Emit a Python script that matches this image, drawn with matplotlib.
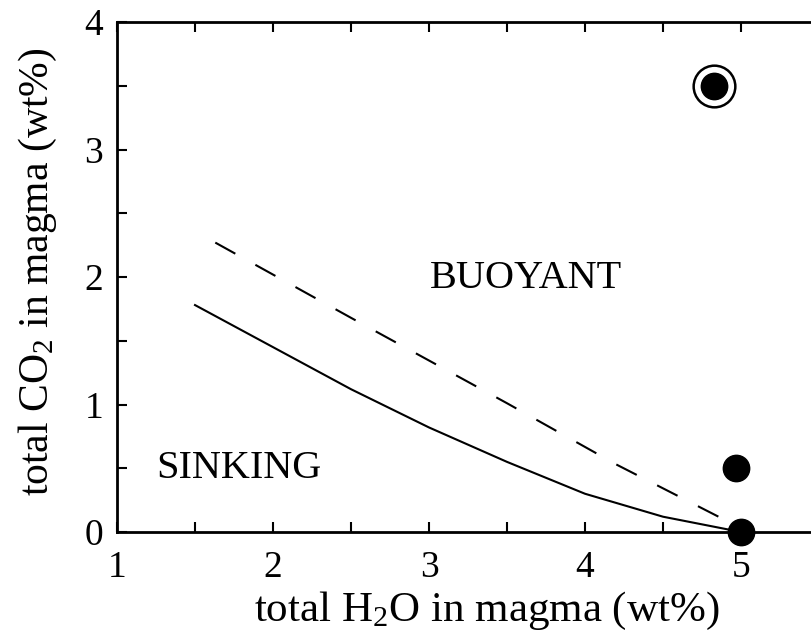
import numpy as np
import matplotlib.pyplot as plt

plt.rcParams['font.family'] = ['Liberation Serif', 'DejaVu Serif']
plt.rcParams['mathtext.fontset'] = 'custom'
plt.rcParams['mathtext.rm'] = 'Liberation Serif'
plt.rcParams['mathtext.it'] = 'Liberation Serif:italic'

# boundary curves (total H2O vs total CO2, wt%)
solid_h2o = [1.5, 2.0, 2.5, 3.0, 3.5, 4.0, 4.5, 5.0]
solid_co2 = [1.78, 1.45, 1.12, 0.82, 0.55, 0.30, 0.12, 0.0]
dashed_h2o = [1.63, 2.5, 3.5, 4.2, 5.0]
dashed_co2 = [2.27, 1.68, 1.01, 0.53, 0.03]

# samples
pts_h2o = [4.83, 4.97, 5.0]
pts_co2 = [3.5, 0.5, 0.0]
ringed_h2o = [4.83]
ringed_co2 = [3.5]

xticks = np.arange(1, 6.01, 0.5)
xlabels = [str(int(v)) if v == int(v) and v <= 5 else '' for v in xticks]
yticks = np.arange(0, 4.01, 0.5)
ylabels = [str(int(v)) if v == int(v) else '' for v in yticks]

fig = plt.figure(figsize=(8.12, 6.44), dpi=100)
ax = fig.add_axes([0.1441, 0.1739, 0.9606, 0.7919])

ax.plot(solid_h2o, solid_co2, color='black', lw=1.5)
ax.plot(dashed_h2o, dashed_co2, color='black', lw=1.5, dashes=(11, 11))
ax.plot(ringed_h2o, ringed_co2, 'o', ms=30, mfc='none', mec='black', mew=1.8, clip_on=False)
ax.plot(pts_h2o, pts_co2, 'o', ms=19, color='black', clip_on=False, zorder=5)

ax.text(3.62, 1.99, 'BUOYANT', fontsize=29, ha='center', va='center')
ax.text(1.78, 0.5, 'SINKING', fontsize=29, ha='center', va='center')

ax.set_xlim(1, 6)
ax.set_ylim(0, 4)
ax.set_xticks(xticks)
ax.set_xticklabels(xlabels)
ax.set_yticks(yticks)
ax.set_yticklabels(ylabels)
ax.tick_params(direction='in', length=7, width=1.5, labelsize=27, top=True, right=True)
ax.tick_params(axis='x', pad=13)
ax.tick_params(axis='y', pad=10)
for s in ax.spines.values():
    s.set_linewidth(2)

ax.set_xlabel(r'total H$_2$O in magma (wt%)', fontsize=31)
ax.set_ylabel(r'total CO$_2$ in magma (wt%)', fontsize=30)
ax.xaxis.set_label_coords(0.474, -0.113)
ax.yaxis.set_label_coords(-0.074, 0.51)

fig.savefig('out.png', dpi=100)
